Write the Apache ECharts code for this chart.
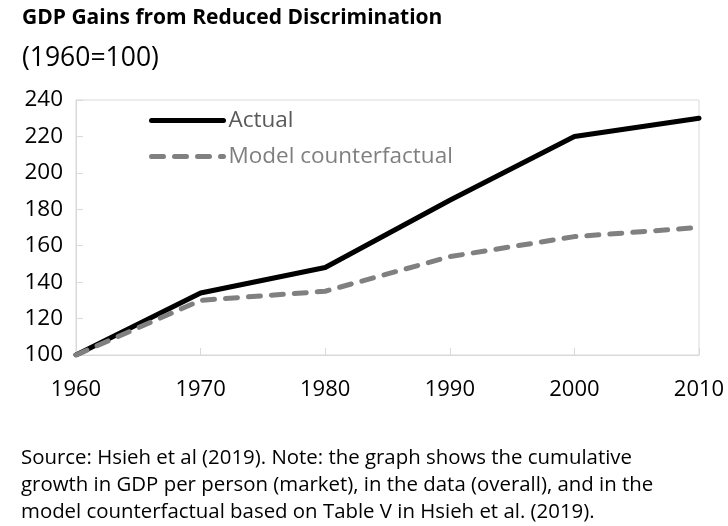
<!DOCTYPE html>
<html>
<head>
<meta charset="utf-8">
<script src="https://cdn.jsdelivr.net/npm/echarts@6/dist/echarts.min.js"></script>
<style>
  html, body { margin: 0; padding: 0; background: #fff; }
  #chart { width: 728px; height: 526px; }
</style>
</head>
<body>
<div id="chart"></div>
<script>
// Index of GDP per person, 1960 = 100
const years = [1960, 1970, 1980, 1990, 2000, 2010];
const actual = [100, 134, 148, 185, 220, 230];
const counterfactual = [100, 130, 135, 154, 165, 170];
const yTicks = { min: 100, max: 240, step: 20 };

const FONT = '"Open Sans", "Noto Sans", sans-serif';

const chart = echarts.init(document.getElementById('chart'), null, { renderer: 'canvas' });

chart.setOption({
  animation: false,
  backgroundColor: '#ffffff',
  title: [
    {
      text: 'GDP Gains from Reduced Discrimination',
      left: 17, top: 3,
      textStyle: { fontFamily: FONT, fontWeight: 'bold', fontSize: 21, color: '#000' }
    },
    {
      text: '(1960=100)',
      left: 17, top: 40,
      textStyle: { fontFamily: FONT, fontWeight: 'normal', fontSize: 26.5, color: '#000' }
    },
    {
      text: 'Source: Hsieh et al (2019). Note: the graph shows the cumulative\n' +
            'growth in GDP per person (market), in the data (overall), and in the\n' +
            'model counterfactual based on Table V in Hsieh et al. (2019).',
      left: 16, top: 440,
      textStyle: { fontFamily: FONT, fontWeight: 'normal', fontSize: 20.4, lineHeight: 27, color: '#000' }
    }
  ],
  legend: {
    orient: 'vertical',
    left: 144, top: 104,
    itemWidth: 72, itemHeight: 6, itemGap: 13,
    itemStyle: { opacity: 0 },
    lineStyle: { width: 5 },
    textStyle: { fontFamily: FONT, fontSize: 22.5 },
    data: [
      { name: 'Actual', textStyle: { color: '#595959' } },
      { name: 'Model counterfactual', textStyle: { color: '#7f7f7f' } }
    ]
  },
  grid: {
    left: 76, right: 29, top: 100, bottom: 171,
    show: true, borderColor: '#d9d9d9', borderWidth: 1
  },
  xAxis: {
    type: 'value',
    min: years[0], max: years[years.length - 1], interval: 10,
    axisLine: { show: true, lineStyle: { color: '#d9d9d9', width: 1 } },
    axisTick: { show: true, inside: true, length: 7, lineStyle: { color: '#d9d9d9' } },
    splitLine: { show: false },
    axisLabel: { fontFamily: FONT, fontSize: 22, color: '#000', margin: 24, formatter: v => String(v) }
  },
  yAxis: {
    type: 'value',
    min: yTicks.min, max: yTicks.max, interval: yTicks.step,
    axisLine: { show: true, lineStyle: { color: '#d9d9d9', width: 1 } },
    axisTick: { show: true, inside: true, length: 7, lineStyle: { color: '#d9d9d9' } },
    splitLine: { show: false },
    axisLabel: { fontFamily: FONT, fontSize: 22.5, color: '#000', margin: 13 }
  },
  series: [
    {
      name: 'Actual',
      type: 'line',
      data: years.map((y, i) => [y, actual[i]]),
      symbol: 'none',
      lineStyle: { color: '#000', width: 5, cap: 'round', join: 'round' },
      itemStyle: { color: '#000' },
      z: 3
    },
    {
      name: 'Model counterfactual',
      type: 'line',
      data: years.map((y, i) => [y, counterfactual[i]]),
      symbol: 'none',
      lineStyle: { color: '#808080', width: 5, type: [12, 11], cap: 'round', join: 'round' },
      itemStyle: { color: '#808080' },
      z: 4
    }
  ]
});
</script>
</body>
</html>
